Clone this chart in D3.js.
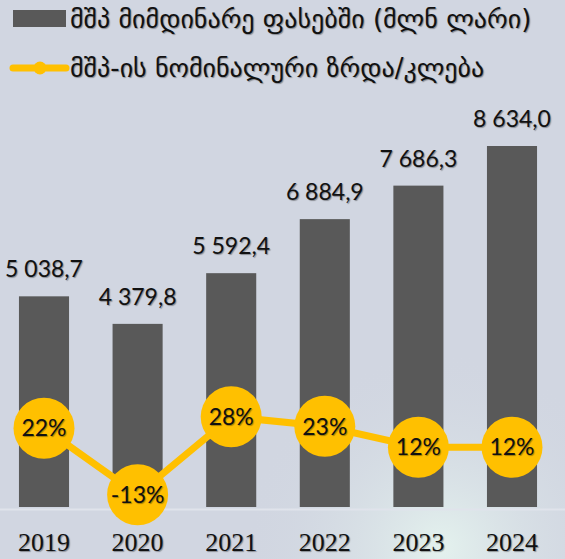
<!DOCTYPE html>
<html>
<head>
<meta charset="utf-8">
<script src="https://cdn.jsdelivr.net/npm/d3@7"></script>
<style>
  html, body { margin: 0; padding: 0; background: #d1d6e1; }
  #canvas svg { display: block; }
  .shadow { text-shadow: 1px 1px 1px rgba(0,0,0,0.35); }
</style>
</head>
<body>
<div id="canvas"></div>
<script>
const years = ["2019", "2020", "2021", "2022", "2023", "2024"];
const gdp = [5038.7, 4379.8, 5592.4, 6884.9, 7686.3, 8634.0];
const gdpLabels = ["5 038,7", "4 379,8", "5 592,4", "6 884,9", "7 686,3", "8 634,0"];
const growth = [22, -13, 28, 23, 12, 12];
const growthLabels = ["22%", "-13%", "28%", "23%", "12%", "12%"];
const legendBar = "მშპ მიმდინარე ფასებში (მლნ ლარი)";
const legendLine = "მშპ-ის ნომინალური ზრდა/კლება";

const width = 565;
const height = 559;

const svg = d3.select("#canvas").append("svg")
    .attr("width", width)
    .attr("height", height);

// background with a faint glow near the bottom
const defs = svg.append("defs");
const glow = defs.append("radialGradient").attr("id", "glow")
    .attr("cx", "0.78").attr("cy", "0.98").attr("r", "0.35");
glow.append("stop").attr("offset", "0%").attr("stop-color", "#e4f2ee");
glow.append("stop").attr("offset", "100%").attr("stop-color", "#d1d6e1").attr("stop-opacity", 0);
svg.append("rect").attr("width", width).attr("height", height).attr("fill", "#d1d6e1");
svg.append("rect").attr("width", width).attr("height", height).attr("fill", "url(#glow)");

const x = d3.scaleBand()
    .domain(years)
    .range([-2.8, 558.8])
    .paddingInner(0.465)
    .paddingOuter(0.2325);

const y = d3.scaleLinear()
    .domain([0, 9000])
    .range([507, 130.7]);

const y2 = d3.scaleLinear()
    .domain([-20, 30])
    .range([508, 413]);

const cx = d => x(d) + x.bandwidth() / 2;

// bars
svg.append("g").selectAll("rect").data(years)
  .enter().append("rect")
    .attr("x", d => x(d))
    .attr("y", (d, i) => y(gdp[i]))
    .attr("width", x.bandwidth())
    .attr("height", (d, i) => y(0) - y(gdp[i]))
    .style("fill", "#595959");

// bar labels
svg.append("g").selectAll("text").data(years)
  .enter().append("text")
    .attr("class", "shadow")
    .attr("x", d => cx(d))
    .attr("y", (d, i) => y(gdp[i]) - 19)
    .attr("text-anchor", "middle")
    .style("font-family", "Lato, 'Open Sans', sans-serif")
    .style("font-size", "23px")
    .style("fill", "#111")
    .text((d, i) => gdpLabels[i]);

// x axis
const xAxis = svg.append("g")
    .attr("transform", `translate(0,${y(0)})`)
    .call(d3.axisBottom(x).tickSize(0).tickPadding(26));
xAxis.select(".domain").attr("d", `M0,2.5H${width}`).style("stroke", "#e0e3eb").style("stroke-width", 2);
xAxis.selectAll("text")
    .attr("class", "shadow")
    .style("font-family", "'Liberation Serif', serif")
    .style("font-size", "26px")
    .style("fill", "#111");

// growth line
const line = d3.line()
    .x(d => cx(d))
    .y((d, i) => y2(growth[i]));

svg.append("path")
    .datum(years)
    .attr("d", line)
    .style("fill", "none")
    .style("stroke", "#ffc000")
    .style("stroke-width", 7);

svg.append("g").selectAll("circle").data(years)
  .enter().append("circle")
    .attr("cx", d => cx(d))
    .attr("cy", (d, i) => y2(growth[i]))
    .attr("r", 30.5)
    .style("fill", "#ffc000");

svg.append("g").selectAll("text").data(years)
  .enter().append("text")
    .attr("class", "shadow")
    .attr("x", d => cx(d))
    .attr("y", (d, i) => y2(growth[i]))
    .attr("dy", "0.36em")
    .attr("text-anchor", "middle")
    .style("font-family", "Lato, 'Open Sans', sans-serif")
    .style("font-size", "23px")
    .style("fill", "#111")
    .text((d, i) => growthLabels[i]);

// legend
const legend = svg.append("g");
legend.append("rect")
    .attr("x", 13).attr("y", 10)
    .attr("width", 53).attr("height", 17)
    .style("fill", "#595959");
legend.append("text")
    .attr("class", "shadow")
    .attr("x", 70).attr("y", 19).attr("dy", "0.35em")
    .style("font-family", "'DejaVu Sans', sans-serif")
    .style("font-size", "26px")
    .style("fill", "#111")
    .text(legendBar);
legend.append("line")
    .attr("x1", 13).attr("x2", 66).attr("y1", 68).attr("y2", 68)
    .style("stroke", "#ffc000").style("stroke-width", 7).style("stroke-linecap", "round");
legend.append("circle")
    .attr("cx", 40).attr("cy", 68).attr("r", 6.5)
    .style("fill", "#ffc000");
legend.append("text")
    .attr("class", "shadow")
    .attr("x", 70).attr("y", 68).attr("dy", "0.35em")
    .style("font-family", "'DejaVu Sans', sans-serif")
    .style("font-size", "26px")
    .style("fill", "#111")
    .text(legendLine);
</script>
</body>
</html>
